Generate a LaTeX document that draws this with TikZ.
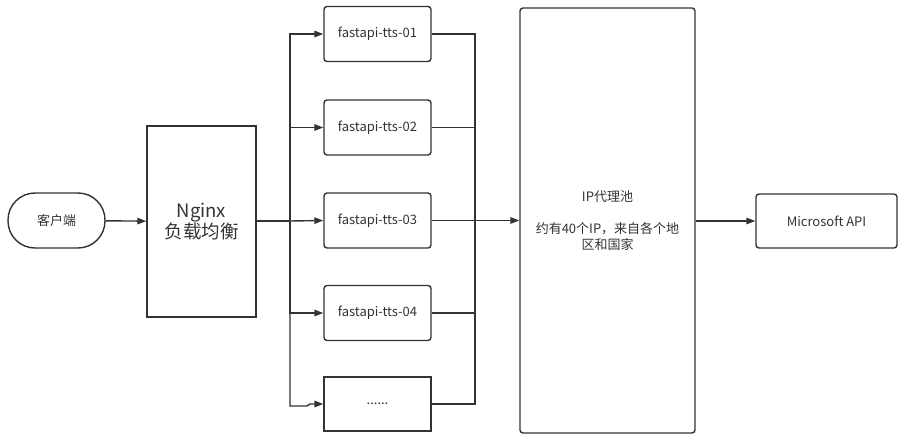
\documentclass[tikz,border=0pt]{standalone}
\usepackage{fontspec}
\setmainfont{Noto Sans CJK SC}
\usetikzlibrary{arrows.meta}
\definecolor{ln}{HTML}{333333}
\begin{document}
\begin{tikzpicture}[x=1pt,y=-1pt,
  box/.style={draw=ln,line width=1.4pt,rounded corners=3pt,text=ln,font=\fontsize{13}{16}\selectfont,align=center,inner sep=0pt},
  sq/.style={box,rounded corners=0pt},
  arr/.style={draw=ln,line width=1.4pt,-{Triangle[length=9pt,width=6.5pt]}},
  ln/.style={draw=ln,line width=1.4pt}]
\useasboundingbox (0,0) rectangle (905,441);
\node[box,rounded corners=27pt,minimum width=97pt,minimum height=55pt] (cl) at (56.5,220.5) {客户端};
\node[sq,minimum width=109pt,minimum height=191pt,font=\fontsize{18.5}{21}\selectfont] (ng) at (201.5,221.5) {Nginx\\负载均衡};
\node[box,minimum width=107pt,minimum height=55pt] (f1) at (377.5,34) {fastapi-tts-01};
\node[box,minimum width=107pt,minimum height=55pt] (f2) at (377.5,127.5) {fastapi-tts-02};
\node[box,minimum width=107pt,minimum height=55pt] (f3) at (377.5,220.5) {fastapi-tts-03};
\node[box,minimum width=107pt,minimum height=55pt] (f4) at (377.5,313) {fastapi-tts-04};
\node[sq,minimum width=107pt,minimum height=54pt] (f5) at (377.5,404) {......};
\node[box,minimum width=175pt,minimum height=425pt] (ip) at (607.5,220.5) {IP代理池\\[16pt]约有40个IP，来自各个地\\区和国家};
\node[box,minimum width=141pt,minimum height=54pt] (ms) at (826.5,221) {Microsoft API};
\coordinate (bl) at (290,221);
\coordinate (br) at (475,220.5);
\draw[arr] (cl) -- (ng);
\draw[ln] (ng.east |- bl) -- (bl);
\draw[arr] (bl) |- (f1.west);
\draw[arr] (bl) |- (f2.west);
\draw[arr] (bl) -- (f3.west);
\draw[arr] (bl) |- (f4.west);
\draw[arr] (bl) |- (307,406) -- (310,404) -- (f5.west);
\draw[ln] (f1.east) -| (br);
\draw[ln] (f2.east) -| (br);
\draw[ln] (f4.east) -| (br);
\draw[ln] (f5.east) -| (br);
\draw[arr] (f3.east) -- (ip.west |- br);
\draw[arr] (ip.east |- ms.west) -- (ms.west);
\end{tikzpicture}
\end{document}
